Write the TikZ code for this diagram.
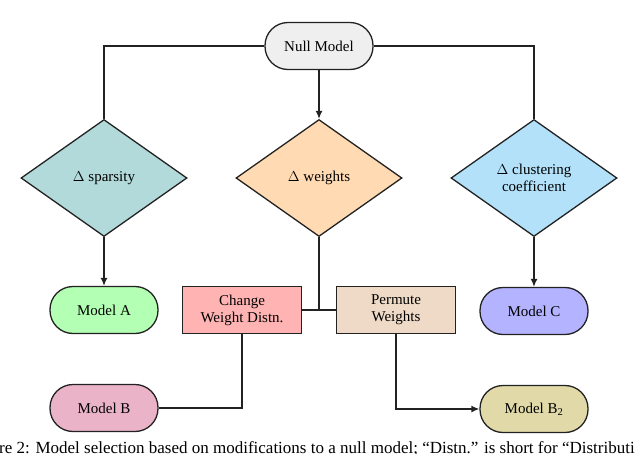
\documentclass[tikz,border=0pt]{standalone}
\usepackage{fontspec}
\setmainfont{Liberation Serif}
\usetikzlibrary{shapes.geometric,arrows.meta}
\definecolor{cnull}{HTML}{EFEFEF}
\definecolor{csparse}{HTML}{B3DADA}
\definecolor{cweight}{HTML}{FFDAB3}
\definecolor{cclust}{HTML}{B3E1FA}
\definecolor{cma}{HTML}{B3FFB3}
\definecolor{cchange}{HTML}{FFB3B3}
\definecolor{cperm}{HTML}{EEDAC6}
\definecolor{cmc}{HTML}{B3B3FF}
\definecolor{cmb}{HTML}{EBB3C8}
\definecolor{cmbb}{HTML}{E1DAA8}
\definecolor{cline}{HTML}{222222}
\tikzset{
  base/.style={draw=cline, line width=1.3pt, font=\fontsize{15}{17}\selectfont, align=center, inner sep=0pt},
  stadium/.style={base, rectangle, rounded corners=23pt, minimum width=108pt, minimum height=47pt},
  decide/.style={base, diamond, minimum width=166pt, minimum height=117pt},
  procbox/.style={base, rectangle, minimum width=119pt, minimum height=47pt},
  conn/.style={draw=cline, line width=1.3pt},
  arr/.style={conn, -{Latex[length=8pt,width=7pt]}},
}
\begin{document}
\begin{tikzpicture}[x=1pt,y=-1pt]
\useasboundingbox (0,0) rectangle (640,453);
\node[stadium, fill=cnull] (null) at (319,46) {Null Model};
\node[decide, fill=csparse] (sparse) at (104,178) {$\Delta$ sparsity};
\node[decide, fill=cweight] (weight) at (319,178) {$\Delta$ weights};
\node[decide, fill=cclust] (clust) at (534,178) {$\Delta$ clustering\\coefficient};
\node[stadium, fill=cma] (ma) at (104,310) {Model A};
\node[procbox, fill=cchange] (change) at (242,310) {Change\\Weight Distn.};
\node[procbox, fill=cperm] (perm) at (396,310) {Permute\\Weights};
\node[stadium, fill=cmc] (mc) at (534,311) {Model C};
\node[stadium, fill=cmb] (mb) at (104,408) {Model B};
\node[stadium, fill=cmbb] (mbb) at (534,409) {Model B\textsubscript{2}};
\coordinate (junc) at (319,310);
\draw[conn] (null.west) -| (sparse.north);
\draw[conn] (null.east) -| (clust.north);
\draw[arr] (null.south) -- (weight.north);
\draw[arr] (sparse.south) -- (ma.north);
\draw[arr] (clust.south) -- (mc.north);
\draw[conn] (weight.south) -- (junc);
\draw[conn] (change.east) -- (perm.west);
\draw[conn] (change.south) |- (mb.east);
\draw[arr] (perm.south) |- (mbb.west);
\begin{scope}
\clip (0,0) rectangle (640,453);
\node[anchor=base west, inner sep=0pt, font=\fontsize{17}{19}\selectfont] (cap) at (-1,453) {re 2: Model selection based on modifications to a null model; “Distn.” is short for “Distributi};
\end{scope}
\end{tikzpicture}
\end{document}
